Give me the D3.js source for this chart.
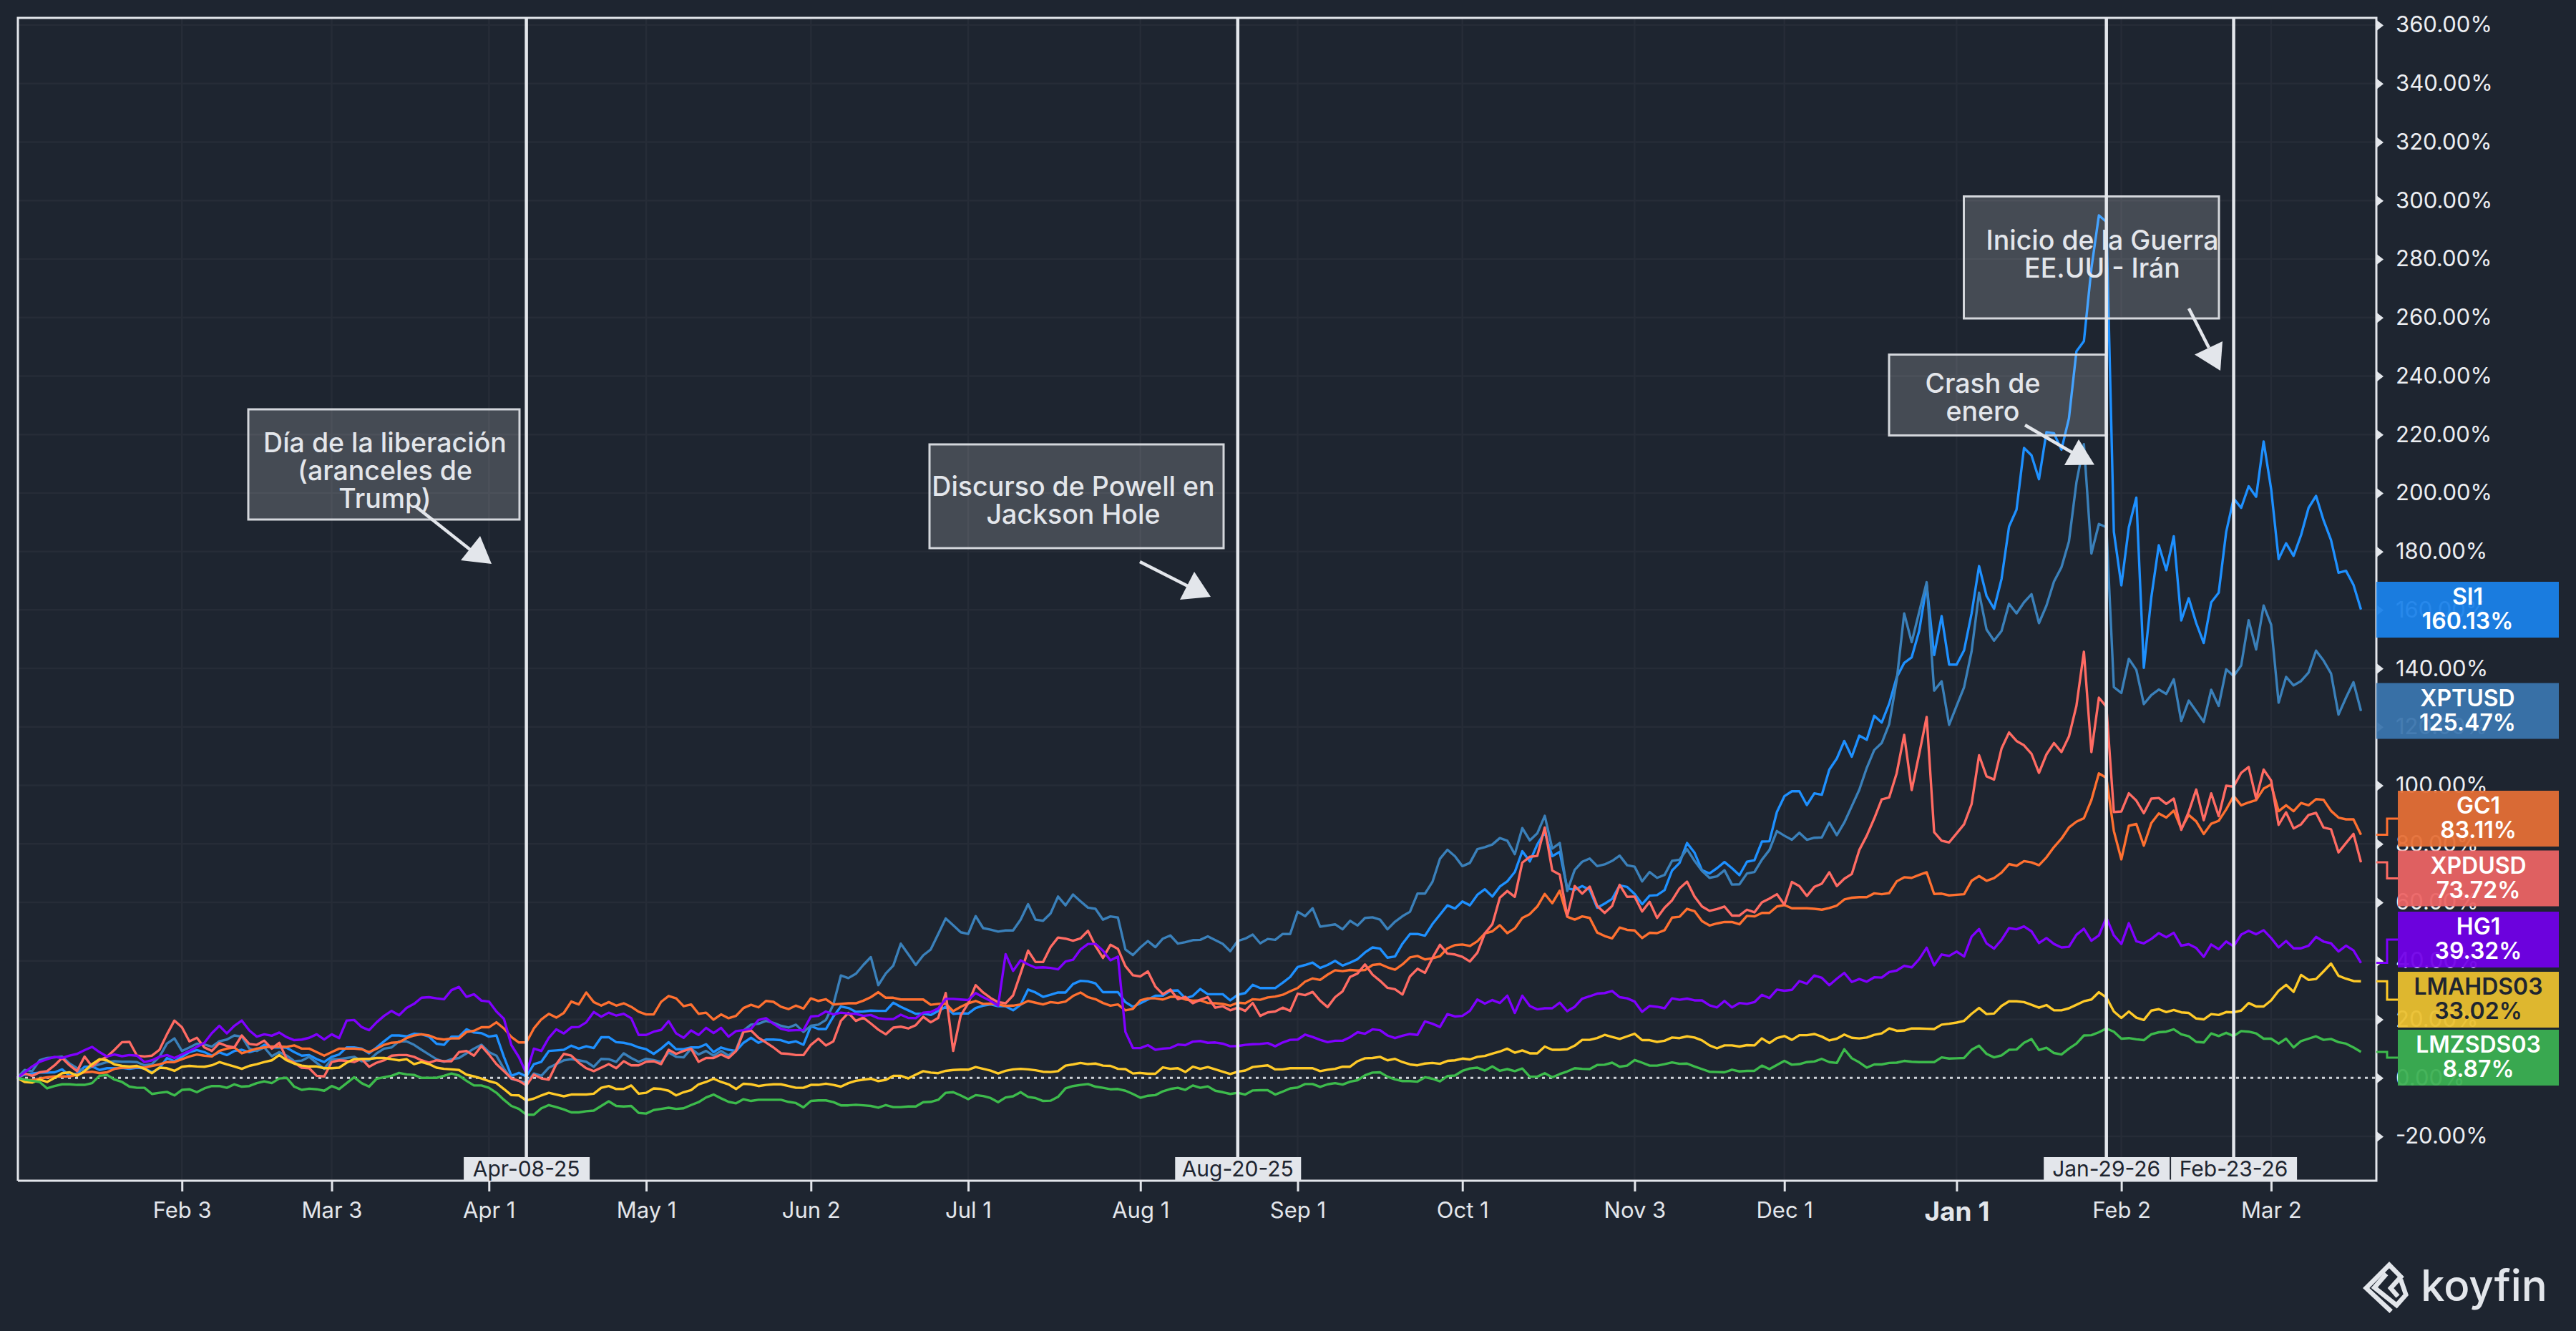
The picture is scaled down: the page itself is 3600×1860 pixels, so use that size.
<!DOCTYPE html>
<html>
<head>
<meta charset="utf-8">
<script src="https://cdnjs.cloudflare.com/ajax/libs/d3/7.8.5/d3.min.js"></script>
<style>
  html, body { margin: 0; padding: 0; background: #1e2530; }
  svg { display: block; font-family: Inter, "Noto Sans", sans-serif; }
</style>
</head>
<body>
<div id="chart"></div>
<script>
// Values in percent, one per trading session
var si1 = [
0,1.1,1.5,1.8,1.8,1.9,2.9,0.7,1.5,3.8,
3.9,2.7,3.3,3.3,3.4,3.1,3.5,3.3,1.9,3.3,
6.8,5.7,7.2,8.8,9.5,8.8,7.6,8.7,7.8,9.2,
9.6,8.8,9.5,11.3,10.4,10.4,10.3,8.8,7.6,7.8,
6.4,5.4,7.2,8,10.4,10.4,10,8.4,10.4,12.5,
14.5,14.5,14.2,15.1,14.9,14.1,11.7,11.3,14.1,14.1,
16.6,15.5,15.3,14.1,14.5,7.2,0.7,1.7,0.5,4.7,
5.5,9.2,9.4,9.6,11,10,10.8,10.2,13.9,13.9,
12.2,12,11.4,10.4,9.8,8.2,10,12.2,9.8,9.8,
10.4,10.4,11.5,8.8,10.4,9.6,9.2,12,13.7,12,
13.1,13.1,12.9,12,12.5,11.3,17.7,16.7,16.7,21,
24.4,23.9,22.6,
22.7,23,22.9,22.9,25.7,24.3,23.1,
21.9,22,21.5,22.9,24.3,21.9,22.1,22,23.9,24.7,
25.1,24.5,24.5,23.1,25,30.2,29.2,27.7,28.4,29.2,
29.2,32.1,33.2,33,32.3,29.3,29.3,29.3,25.9,24.3,
25.5,26.8,28.1,28.1,29.8,29.9,27.2,28,30.4,28.6,
28.6,28.6,26.5,28.4,29,31.8,30.7,30.7,30.7,32.5,
34.5,37.9,38.6,39.4,37.6,38.6,40,38.4,39.4,40.6,
42.9,44.6,44.2,41.1,41.5,45.9,49.2,49.2,48.6,
52.6,55.8,59,57.9,60.3,59,62.6,64.5,62,65.4,67.2,
70.4,77.5,74,79.8,84,75.8,77.3,64.8,64.3,65.6,
64.3,58.2,59.6,61.2,65.8,65.3,62.9,59.4,62.3,62.5,
64.2,70.9,73.5,80.3,77,71,69.9,71.7,73.8,71.7,
69.3,73.9,74.4,80.8,80.9,90.9,96.3,98,98,93.3,
97.3,96.8,105.4,109.2,115.2,109.8,117,115.6,123.8,121.5,
128,137,141.9,143.8,152.8,168.6,144.6,157.9,141.3,141.3,
146.2,158.8,175,164.8,160.4,170.6,188.5,194.3,215.4,212.9,
204.7,220.8,220.4,214.8,225.5,248.4,251.9,276.8,294.9,292.7,
186.7,168.4,188.3,198.4,140.2,164.3,182.1,173.6,185.2,156.4,
164,155.5,148.7,162.6,165.9,186.7,198.1,194.9,202.3,198.7,
217.6,201.4,177.4,182.8,178.5,185.6,194.9,199,190.7,183.9,
172.7,173.4,168.6,160.13
];
var xptusd = [
0,2.7,2.3,6,6.8,7,7.3,4.9,3.3,2.4,
3.9,4.6,5.4,5.7,5.5,5.5,5.4,4.3,4.7,7.2,
11.7,13.5,9.2,10.4,11.7,11.4,10.7,12.5,13.1,14.5,
14.1,10,9.2,10.4,7.4,8.8,7.6,5.7,5.9,7.2,
5.1,3.1,6.4,6.4,6.8,7.2,5.7,6,8.4,10,
10.4,12.5,12.5,11.3,9.6,8,6.4,5.5,6.4,6.8,
8.4,10,11.3,8.8,7.6,3.1,-0.3,-1,-1.8,1.5,
0.7,3.5,4.7,6,6.4,6,5.5,3.8,6.5,6.4,
5.5,8.4,6.8,5.5,6.5,6.1,5.4,8.7,7.2,7,
10,8,9.2,7.6,9.2,7.6,9.6,16.2,18.2,18.5,
19.5,18.8,17.8,17.2,18.2,15.7,17.8,18.2,19.8,25.1,
35,34.1,35.6,
38.6,41.3,31.7,35.7,38.4,45.9,42.3,
38.6,41.9,43.9,49.2,54.5,52.2,49.8,49.2,55.3,51.2,
50.7,50,50.4,50.4,54.1,59.4,54.1,53.7,56.2,62,
59,62.7,60.4,58.2,57.8,54.1,55.2,54.8,43.9,42,
44.6,46.8,44.7,47.6,48.7,45.9,46.4,47.1,47.2,48.4,
47.1,45.8,43.3,46.8,47.6,49,46,47.5,47.2,49.2,
49.2,56.8,55.3,58,51.7,52.1,52.5,50.8,53.7,52.1,
54.7,54.9,54.1,50.8,53.4,55.3,56.8,63,63,
67,74.9,78,75.8,72.4,73.5,78.2,78.9,79.8,82,81.1,
76.5,85.4,81.2,83.6,89.6,78.4,80.3,63.9,71.1,73.9,
75,72.4,73,74.2,76,72.7,72.2,67.2,70.4,68.4,
69.4,74.2,74.6,78.2,74.2,70.8,68.4,68.9,71,66.1,
66.2,69.9,70.4,74.6,77.9,84.4,82.8,81.4,83.8,81.4,
82.1,82.2,87.3,83,87.3,92.9,98.5,106,112.1,114.5,
121,136,158.8,149,159.3,169.5,132.4,135.6,120.7,127.2,
133.6,145.8,165.9,153.3,149.5,152.8,162.1,158.8,162.6,165.4,
155.5,161.5,169.7,174.6,183.4,203.6,216.7,179.3,189.4,188.3,
133.6,131.6,143.3,139.5,127.8,130.9,132.8,131.3,136.3,122,
129,125.4,121.7,132.7,127.2,139.7,137.4,141,156.5,146.5,
161.5,155,128.3,137.1,134.2,135.7,138.6,146.1,142.7,138.3,
124.2,130,135.3,125.47
];
var gc1 = [
0,-0.8,-0.8,-0.2,0.2,0.5,0.5,0.5,1.1,1.9,
2.1,1.6,1.9,3.1,3.5,3.5,3.8,3.5,4.1,4.6,
5.4,5.4,6.4,7.3,8,7.6,7.3,9.2,10,10.4,
8.4,9.2,10,10.4,10.7,10.7,10.6,11.1,10,10,
8.8,7.6,8.8,10,10,10,9.8,8.8,10,11.3,
12,12.2,13.6,14.5,14.9,14.5,13.5,13.1,13.5,13.5,
15.7,16.1,17.3,17.3,19,16.9,14,12.1,12.1,16.9,
20,21.9,20.6,22.2,26.1,25.1,29.2,25.9,24.7,25.9,
24.7,25.5,24.3,22.6,21.7,21.7,26,28,27.2,24.5,
25.1,21.9,22.3,19.9,21.7,20.4,21.2,23.9,25,24.1,
26.3,26,24.3,23.5,24.7,23.7,27.2,26.3,26.9,25.1,
25.3,25.5,25.5,
26.4,27.6,29.3,27.4,27.4,26.8,26.8,
26.8,26.8,25,25.3,25.4,22.8,24.3,25.5,26.3,25.3,
25.4,25.1,24.6,24.7,25.1,26.3,25.7,25.1,25.9,25.6,
26.1,28,29.2,27.6,26.9,25.6,24.7,25.1,23.1,23.6,
26.5,27.2,27.2,26.8,27.7,27.7,26.8,26.4,26.5,25.6,
25.5,25.3,24.7,25.7,25.5,26.9,26.7,27.5,27.8,28.4,
29.6,30.7,32.9,34,33.5,35.3,36.8,36.5,36.9,36.7,
36.9,38.6,38.9,37.8,37,38.8,41.2,41.7,40.5,
40.9,41.6,44.3,45.4,45.6,45.1,46.7,49.4,50.1,52.2,49.5,
51.1,54.7,56,58.6,62.9,59.7,64,55.1,54.1,55.2,
54.7,49.7,48.5,47.7,51.4,50.6,50.4,47.8,49.6,49.5,
50.5,54.8,55.1,57.8,57,53.6,52.1,52.8,53.3,53.3,
52.5,55.4,55.2,56.4,56.4,58.6,59.1,58,58,58,
57.8,57.5,58.1,58.9,61,61.6,61.8,61.8,63.1,62.8,
63.2,67.2,68.6,68.4,69.4,70.3,62.9,63,62.4,62.6,
62.8,67.4,69,67.4,68.3,70.2,
73.1,72.5,74.1,73.7,
72.7,75.4,78.9,81.8,85.6,87.6,88.8,95,104.1,102.6,
84.4,74.7,86.2,86.8,79.4,87.1,90.4,89,91.4,85.2,
89.9,87.7,83.4,86.9,87.9,91.8,96.4,93.2,94.2,95,
98.9,100.3,91.2,93.2,91.2,94,93.2,95.3,95.1,91.3,
89,88.4,88.4,83.11
];
var xpdusd = [
0,1.5,0.7,1.9,2.3,4.3,6.8,4.3,2.3,7.3,
3.9,6,7.2,9.6,12.2,12.3,7.6,7.3,7.6,9.6,
14.9,19.6,17.3,12.5,13.7,10.4,9.2,11.9,10.9,10.4,
14.5,11.6,11.3,12.7,10,12,6.4,5.2,3.5,3.3,
0.7,0.5,5.4,6,5.8,5.4,6.5,3.8,5.2,6,
7.6,7.8,7.8,7.2,6,5.2,6,5.7,5.7,8.8,
9.2,7.6,10.9,8,4.7,2.3,-0.2,-1,-2.6,1.1,
-0.2,-0.6,4.7,8.2,7.6,5.2,3.3,2.3,3.5,4.7,
3.3,5.7,4.3,4.3,5.5,5.7,4.7,9.6,8.2,9.2,
10,5.5,6.8,6.8,8,6.8,9.2,15.7,16.2,13.7,
12.1,10.4,8.4,8.2,7.8,7.8,11.3,13.4,11.1,12.5,
19.5,22.2,19.5,
20.6,18.6,16.5,14.9,17.2,17.5,16.9,
18,20.9,19,20.5,29,9.2,21.3,25.5,31.7,29.2,
27.3,25.9,25.5,28.2,35.7,43.5,39.6,39.6,44.7,48,
47.6,46.9,47.7,50.3,45.1,41,45.5,44.1,38.2,35.1,
34.7,36.4,31.2,28.6,30.2,26.9,27.7,25.5,26.7,27.6,
24,24.5,23.1,24,22.9,25.6,21.2,22.4,22.7,24,
22.9,28.8,28.3,29.4,26.4,24.2,27.6,29.6,34.5,35.7,
38.8,35.3,33.2,30.8,30.3,28.5,34.7,37.3,35.9,
41,45.5,42.5,42.2,41.4,39.8,42.8,49.4,52.5,61.6,63.9,
61.9,73.6,75.6,75.9,85.6,70.9,69.5,55.4,65.6,63,
65.4,58.8,56.4,58.8,66,61.9,62,56.9,60.2,54.7,
58.2,60.7,64.8,67.1,62,58.6,57.1,57.7,58.6,55.5,
55.5,57.5,56.6,60,61.3,62.8,59.2,67,65.6,62.2,
65.3,66.4,70.3,65.6,68.1,69.7,77.9,82.8,88.7,95.2,
95.9,104.2,117.3,98.4,110.7,123.4,84,81.1,80.5,83.6,
86.7,93.6,110.3,103.1,102,112.6,
118.1,115.2,113.7,110.8,
104.3,110.6,114.5,111.4,116.7,127.2,145.7,111.4,130,126.9,
90.9,91.1,97.3,94.8,90.5,95.5,95.7,93.7,95.5,84.8,
91,98.6,88.1,97.3,89.5,99.9,99.6,104.3,106.3,95.5,
105.4,101.7,86.5,90.8,85.3,86.7,89.9,90.6,85.6,85,
77.1,80.3,83.4,73.72
];
var hg1 = [
0,1.9,3.9,5.5,6.4,7.2,6.8,7.6,8.2,9.5,
10.6,8.8,7.3,8,7.4,7.8,7.6,5.4,6,7.2,
7.8,6.8,8,9.2,10.6,12,15.3,17.8,15.2,17.8,
19.6,16.2,14.1,14.9,14.4,15.5,13.9,12.9,13.1,13.7,
14.9,13.1,14.9,13.6,19.6,19.8,17.4,16.3,19,21.2,
22.9,21.4,23.9,25.3,27.4,27.6,27.2,26.9,30,31.1,
27.7,28.6,26.4,26.1,22.7,20.2,11.2,7.1,1.5,10,
9.2,13.7,16.6,15.2,17.3,17.4,19,22.5,20.9,22.3,
21.3,21.9,20.4,14.7,14.7,15.8,16.4,19.4,15.2,13.7,
16.2,14.7,17.1,15.3,17.1,14.1,16,16.3,16.8,19.8,
20.4,18.5,16.8,16.2,16.3,16.3,21,21.2,22.7,21.7,
22.3,22,21.9,
21.2,21.5,20.4,20.1,20.1,21.6,20.5,
20.4,22.3,22.5,23.7,27,27,26.8,26.6,29,27.6,
26.3,24.7,42.3,36.6,40.2,38.8,37.7,37.8,37.6,37.1,
39.8,40.4,43.9,45.8,45.8,43.5,40.2,41.5,15.7,10.2,
10.2,11.2,9.6,10,10.2,11.4,11.2,12.4,12.6,12,
12.1,11.7,10.8,10.9,11.3,11.5,11.6,11.9,10.8,12.1,
13,13.1,14.8,14,13,12.2,12.7,12.7,13.9,15.6,
15.1,16.6,16.3,14.5,13.6,14.4,15,14.7,19.3,
18.5,17.4,21.8,21,21.2,22.9,26.8,25.4,26.6,25.6,28.1,
22.2,28.1,24.6,23.4,23.8,23.8,25.7,22.8,24.3,27.1,
27.9,28.8,29,29.7,27.6,27.2,26.1,22.6,24.6,24.3,
23.8,27.2,26.7,27.1,26.5,26.5,24.8,24.1,26.3,24.1,
25.6,25.3,25.9,28.4,27.3,30.2,29.8,30.1,33.1,32.2,
35,34.2,31.7,33.9,35.9,32.8,33.8,32.9,34.4,34.3,
36.2,36.7,38.3,37.8,40.6,44.5,38.5,42.2,41.7,43.2,
41.5,48.3,50.9,46,44.2,47.2,
51.2,50.8,51.8,50.1,
46.1,47.8,45.8,44.6,44.8,48.9,51,46.9,48.7,54.8,
48.7,45.8,52.9,46.7,46,47.5,49.5,48.1,49.6,45.2,
45.7,44.4,41.4,45.6,44,46.6,45,49,50.3,49.1,
50.5,47.8,44.6,46.8,44.3,44.3,45.2,48.2,46.6,46,
43.2,45.2,43.6,39.32
];
var lmahds03 = [
0,-1.4,-1.6,-0.6,-1.4,0,1.6,1.9,0.7,2.3,
4.7,6.4,6,4.6,4.1,3.9,4.1,3.1,1.6,3.5,
3.3,2.4,3.8,4.1,3.9,3.8,4.3,5.4,4.6,3.9,
3.1,4.1,4.7,5.4,6,7.8,6,4.9,4.2,3.9,
3.9,3.3,3.3,3.5,5.2,6.4,6.5,6.5,6.8,6.8,
6.4,6,6.4,4.7,5.4,4.7,3.5,3.1,2.9,2.7,
1.1,0.5,-0.2,-1.1,-1.8,-3.8,-5.9,-6,-7.7,-7.1,
-6,-5.1,-5.7,-6.3,-5.7,-5.7,-5.7,-5.4,-3.4,-2.8,
-3.8,-3.8,-2.6,-5.4,-5.1,-3.6,-3.8,-4.4,-6,-4.9,
-4.2,-2.2,-1.4,-0.3,-1.4,-2.2,-3.8,-2,-2.2,-2.8,
-2.4,-2.2,-2.2,-2.8,-3.4,-3.4,-2.4,-2.4,-2,-2.4,
-3,-1.8,-1,
-0.6,-0.3,-1.1,-0.7,0.7,0.7,-0.2,
1.1,2.3,1.8,1.6,2.4,2.7,2.8,2.8,3.7,3.1,
2.5,1.5,2.4,2.9,3.1,2.9,2.6,2.1,2,2.3,
4.2,4.6,5.1,4.7,4.9,4.2,4.1,3.1,3,1.5,
1.7,1.4,1.4,3.6,3.1,3.3,2,3.8,3.1,3.7,
2.9,2.1,1.3,2.1,2.5,3.7,4,4.3,2.9,2.9,
3.3,3.3,3.3,3.3,2.3,2.8,3.1,3.8,3.8,5.7,
6.7,6.8,7.2,6,6.5,5.4,4.6,4.3,4.9,
5.1,4.8,5.8,6,6.6,6.3,7.2,7.5,8.3,9,10,
8.6,9.4,8.4,8.4,10.7,9.6,9.6,9.8,11,13,
13,13.6,14.7,14,13.3,14.2,15.1,12.9,12.9,12.3,
12.7,13.8,13.6,14.2,13.8,12.8,11.1,10.1,11.1,11.1,
10.7,11.2,11.1,13.5,11.9,13.6,14.3,13,14.6,14.6,
15,14.1,12.8,13.4,14.8,13.7,13.5,13.8,14.7,15.2,
16.9,16.1,16.2,16.9,16.9,16.8,16.7,18.2,18.5,18.9,
19.5,21.9,23.9,21.8,22,24.6,
26.2,26.2,25.9,25,
24,24.9,23.1,23.1,23.8,25,26.2,26.8,29.3,27.5,
22.7,20.5,22.7,20.6,19.8,23,23.5,22.5,23.2,22.4,
22.2,20.3,20,21.8,21.5,22.5,22.4,23,25.6,24.4,
24.4,26.5,29.8,31.8,29.4,35.2,33.5,33.8,36.4,39.1,
34.9,33.9,33.1,33.02
];
var lmzsds03 = [
0,-0.6,-1,-1.4,-3.6,-2.8,-2.2,-2.2,-2.4,-2.4,
-1.8,0.7,1,-0.6,-1.4,-3,-3.4,-3.4,-5.5,-5.1,
-4.8,-6,-4.1,-3.9,-4.9,-3.6,-2.8,-2.8,-3.4,-2.2,
-3,-2.8,-1.8,-1.2,-1.8,-0.2,0,-3,-4.1,-3.7,
-3.9,-4.4,-2.8,-3.8,-1.8,0.2,-1.8,-3,-0.3,0.2,
0.7,1.7,1.2,1,0,0,0,0.7,1.5,0.8,
-1,-2.6,-2.6,-3.4,-5.1,-7.5,-9.6,-10.6,-12.6,-12.6,
-10.4,-9.3,-10,-10.8,-11.8,-11.8,-11.4,-11.2,-9.6,-8,
-9.6,-9.8,-9.6,-12,-12.2,-11,-10.6,-10.2,-10.6,-10.4,
-9.3,-8.3,-6.7,-5.7,-7,-8.2,-8.7,-7.3,-7.9,-7.5,
-7.5,-7.5,-7.5,-8.2,-8.6,-10.1,-7.9,-7.7,-7.7,-8.3,
-9.4,-9.4,-9.2,
-9.4,-9.6,-10.2,-9.3,-10,-10,-9.8,
-9.8,-8.3,-8.2,-7.5,-5.1,-4.9,-6,-7.3,-5.9,-6.2,
-6.9,-8.3,-6.7,-6.3,-4.9,-6.5,-6.9,-7.9,-7.8,-6.5,
-3.6,-2.8,-2.4,-2.1,-3,-3.4,-3.9,-3.8,-4.4,-5.5,
-6.8,-6.1,-5.9,-4.6,-3.8,-3.4,-4.1,-2.6,-3.4,-2.9,
-4.4,-4.9,-5.5,-5.1,-5.7,-4.3,-4.2,-4.2,-5.7,-4.7,
-3.6,-3.3,-2.1,-2.1,-3.1,-2.2,-1.8,-2.3,-1.3,-0.8,
0.9,1.8,1.9,0.4,-0.5,-1.1,-1.1,-1.3,0.2,
-0.3,-1.2,0.6,0.8,2.4,3.2,3.5,2.5,3.9,2.4,3,
2.3,3.2,0.4,0.4,1.6,0.2,1.3,2.2,3.3,3.1,
3,4.4,4.5,5.2,3.8,4.2,6.1,5.2,4.2,4.2,
4.7,5.3,4.8,4.9,3.9,3,2.1,2,1.9,2.8,
2.2,2.4,2.4,4.2,3,4.4,5.8,4.5,4.7,5.4,
5.6,6.5,5.4,5.1,9.8,6.7,5.3,3.5,4.6,4.6,
5.1,5.2,5.8,5.5,5.4,5.4,5.4,7,6.6,6.7,
6.8,9.6,11,8.2,7,7.7,
9.6,9.7,12,13.3,
9.5,10.3,8.5,8,10,11.7,14.5,14.6,15.6,16.9,
15.8,13.4,13.6,13.2,12.9,14.9,15.6,15.8,16.6,14.9,
14.2,12.3,12.1,15.2,14.3,15.4,14.3,16,15.8,15.2,
13.4,13.4,11.7,13.4,10.4,12.6,13.4,14.2,13,13.3,
12.2,11.7,10.4,8.87
];

var seriesNames = ["SI1", "XPTUSD", "GC1", "XPDUSD", "HG1", "LMAHDS03", "LMZSDS03"];
var seriesValues = [si1, xptusd, gc1, xpdusd, hg1, lmahds03, lmzsds03];
var lastLabels = ["160.13%", "125.47%", "83.11%", "73.72%", "39.32%", "33.02%", "8.87%"];

// Axis ticks: session number of each labelled date
var xTickSessions = [22, 42, 63, 84, 106, 127, 150, 171, 193, 216, 236, 259, 281, 301];
var xTickLabels = ["Feb 3", "Mar 3", "Apr 1", "May 1", "Jun 2", "Jul 1", "Aug 1", "Sep 1", "Oct 1", "Nov 3", "Dec 1", "Jan 1", "Feb 2", "Mar 2"];
var yTicks = d3.range(-20, 361, 20);

// Vertical event markers
var eventSessions = [68, 163, 279, 296];
var eventLabels = ["Apr-08-25", "Aug-20-25", "Jan-29-26", "Feb-23-26"];

// Styling, kept apart from the values
var lineColors = ["#1e90ff", "#3a80ba", "#ff7030", "#ff6b63", "#8000ff", "#ffca28", "#3dbb4c"];
var boxColors = ["#1b82ea", "#3a75ad", "#e56e35", "#ec6464", "#7200e8", "#ebc02f", "#3cb052"];
var boxTops = [813, 954.5, 1105, 1188.5, 1274, 1358, 1439];
var boxLefts = [3321, 3321, 3351, 3351, 3351, 3351, 3351];

var left = 25, right = 3321, top_ = 25, bottom = 1650;
var bg = "#1e2530", ink = "#e3e6eb", grid = "#262c37";

var svg = d3.select("#chart").append("svg").attr("width", 3600).attr("height", 1860);
svg.append("rect").attr("width", 3600).attr("height", 1860).attr("fill", bg);

var x = d3.scaleLinear().domain([0, 313]).range([24, 3299.5]);
var y = d3.scaleLinear().domain([-20, 360]).range([1588, 35]);

// Grid
svg.append("g").selectAll("line").data(yTicks).enter().append("line")
  .attr("x1", left).attr("x2", right)
  .attr("y1", function (d) { return y(d); }).attr("y2", function (d) { return y(d); })
  .attr("stroke", grid).attr("stroke-width", 2.5);
svg.append("g").selectAll("line").data(xTickSessions).enter().append("line")
  .attr("x1", function (d) { return x(d); }).attr("x2", function (d) { return x(d); })
  .attr("y1", top_).attr("y2", bottom)
  .attr("stroke", grid).attr("stroke-width", 2.5);

// X axis
var xAxis = svg.append("g").attr("transform", "translate(0," + bottom + ")")
  .call(d3.axisBottom(x).tickValues(xTickSessions).tickSize(15).tickPadding(15)
    .tickFormat(function (d, i) { return xTickLabels[i]; }));
xAxis.select(".domain").remove();
xAxis.selectAll("line").attr("stroke", ink).attr("stroke-width", 3);
xAxis.selectAll("text").attr("fill", ink).style("font-size", "31px").style("font-family", "Inter");
xAxis.selectAll("text").filter(function (d, i) { return xTickLabels[i] === "Jan 1"; })
  .style("font-size", "37px").style("font-weight", 700);

// Y axis with triangle markers
var yAxis = svg.append("g").attr("transform", "translate(" + right + ",0)")
  .call(d3.axisRight(y).tickValues(yTicks).tickSize(0).tickPadding(27)
    .tickFormat(function (d) { return d.toFixed(2) + "%"; }));
yAxis.select(".domain").remove();
yAxis.selectAll("line").remove();
yAxis.selectAll(".tick").append("path").attr("d", "M1,-7L10,0L1,7Z").attr("fill", ink);
yAxis.selectAll("text").attr("fill", "#eceef2").style("font-size", "31px").style("font-family", "Inter");

// Zero line
svg.append("line").attr("x1", left).attr("x2", right).attr("y1", y(0)).attr("y2", y(0))
  .attr("stroke", "#cfd3d9").attr("stroke-width", 3).attr("stroke-dasharray", "4 6");

// Series
var line = d3.line().x(function (d, i) { return x(i); }).y(function (d) { return y(d); });
svg.append("g").selectAll("path").data(seriesValues).enter().append("path")
  .attr("d", line).attr("fill", "none")
  .attr("stroke", function (d, i) { return lineColors[i]; })
  .attr("stroke-width", 3.4).attr("stroke-linejoin", "round");

// Annotation boxes sit under the event lines
var notes = [
  { box: [347, 572, 379, 154], text: ["Día de la liberación", "(aranceles de", "Trump)"], cx: 538, base: [632, 671, 710] },
  { box: [1299, 621, 411, 145], text: ["Discurso de Powell en", "Jackson Hole"], cx: 1500, base: [693, 732] },
  { box: [2640, 495.5, 303, 113], text: ["Crash de", "enero"], cx: 2771, base: [549, 588] },
  { box: [2744.5, 274.5, 356.5, 170.5], text: ["Inicio de la Guerra", "EE.UU - Irán"], cx: 2938, base: [349, 388] }
];
var arrows = [
  { from: [580, 707], neck: [662, 772], head: [[687, 788], [671, 749], [644, 783]] },
  { from: [1593, 785], neck: [1660, 819], head: [[1692, 834], [1669, 799], [1649, 838]] },
  { from: [2830, 594], neck: [2897, 633], head: [[2905, 614], [2885, 650], [2927, 649.5]] },
  { from: [3059, 431], neck: [3087, 486], head: [[3106, 477], [3067, 495.5], [3103, 518]] }
];
svg.append("g").selectAll("rect").data(notes).enter().append("rect")
  .attr("x", function (d) { return d.box[0]; }).attr("y", function (d) { return d.box[1]; })
  .attr("width", function (d) { return d.box[2]; }).attr("height", function (d) { return d.box[3]; })
  .attr("fill", "#fff").attr("fill-opacity", 0.175)
  .attr("stroke", "#d4d7dc").attr("stroke-width", 3);

// Event lines and their date tags
svg.append("g").selectAll("line").data(eventSessions).enter().append("line")
  .attr("x1", function (d) { return x(d); }).attr("x2", function (d) { return x(d); })
  .attr("y1", top_).attr("y2", 1618)
  .attr("stroke", ink).attr("stroke-width", 4.5);

// Frame
svg.append("path")
  .attr("d", "M" + left + "," + bottom + "V" + top_ + "H" + right + "V" + bottom + "H" + left)
  .attr("fill", "none").attr("stroke", ink).attr("stroke-width", 3);

var tagW = 176;
var tags = svg.append("g").selectAll("g").data(eventSessions).enter().append("g");
tags.append("rect")
  .attr("x", function (d) { return x(d) - tagW / 2 + 0.5; }).attr("y", 1617)
  .attr("width", tagW).attr("height", 33).attr("fill", ink);
tags.append("text")
  .attr("x", function (d) { return x(d); }).attr("y", 1644)
  .attr("text-anchor", "middle").attr("fill", bg).style("font-size", "30px")
  .text(function (d, i) { return eventLabels[i]; });

// Annotation text and arrows
notes.forEach(function (n) {
  n.text.forEach(function (t, i) {
    svg.append("text").attr("x", n.cx).attr("y", n.base[i]).attr("text-anchor", "middle")
      .attr("fill", ink).style("font-size", "37.5px").style("font-weight", 500).text(t);
  });
});
arrows.forEach(function (a) {
  svg.append("line").attr("x1", a.from[0]).attr("y1", a.from[1]).attr("x2", a.neck[0]).attr("y2", a.neck[1])
    .attr("stroke", ink).attr("stroke-width", 4.5);
  svg.append("polygon").attr("points", a.head.join(" ")).attr("fill", ink);
});

// Last-value boxes with their connectors
var boxH = 78;
seriesNames.forEach(function (name, i) {
  var last = seriesValues[i][seriesValues[i].length - 1];
  var bx = boxLefts[i], by = boxTops[i];
  if (bx > right) {
    svg.append("path")
      .attr("d", "M" + right + "," + y(last) + "H" + (right + 15) + "V" + (by + boxH / 2) + "H" + bx)
      .attr("fill", "none").attr("stroke", lineColors[i]).attr("stroke-width", 3);
  }
  svg.append("rect").attr("x", bx).attr("y", by).attr("width", 3576 - bx).attr("height", boxH)
    .attr("fill", boxColors[i]).attr("fill-opacity", 0.94);
  var tx = (bx + 3576) / 2;
  var col = name === "LMAHDS03" ? "#1e2530" : "#fff";
  svg.append("text").attr("x", tx).attr("y", by + 32).attr("text-anchor", "middle")
    .attr("fill", col).style("font-size", "32px").style("font-weight", 600).text(name);
  svg.append("text").attr("x", tx).attr("y", by + 66).attr("text-anchor", "middle")
    .attr("fill", col).style("font-size", "32px").style("font-weight", 600).text(lastLabels[i]);
});

// Logo
var logo = svg.append("g").attr("fill", "none").attr("stroke", ink).attr("stroke-width", 6.5);
logo.append("path").attr("d", "M3341.7,1832.7L3306.7,1800L3339,1767.7L3355.3,1784.3L3341,1800L3351,1811.7");
logo.append("path").attr("d", "M3335,1780L3318.3,1799.3L3349.3,1824L3362.3,1809.3L3355,1788");
svg.append("text").attr("x", 3383).attr("y", 1818).attr("fill", ink)
  .style("font-size", "60px").style("font-weight", 500).text("koyfin");
</script>
</body>
</html>
